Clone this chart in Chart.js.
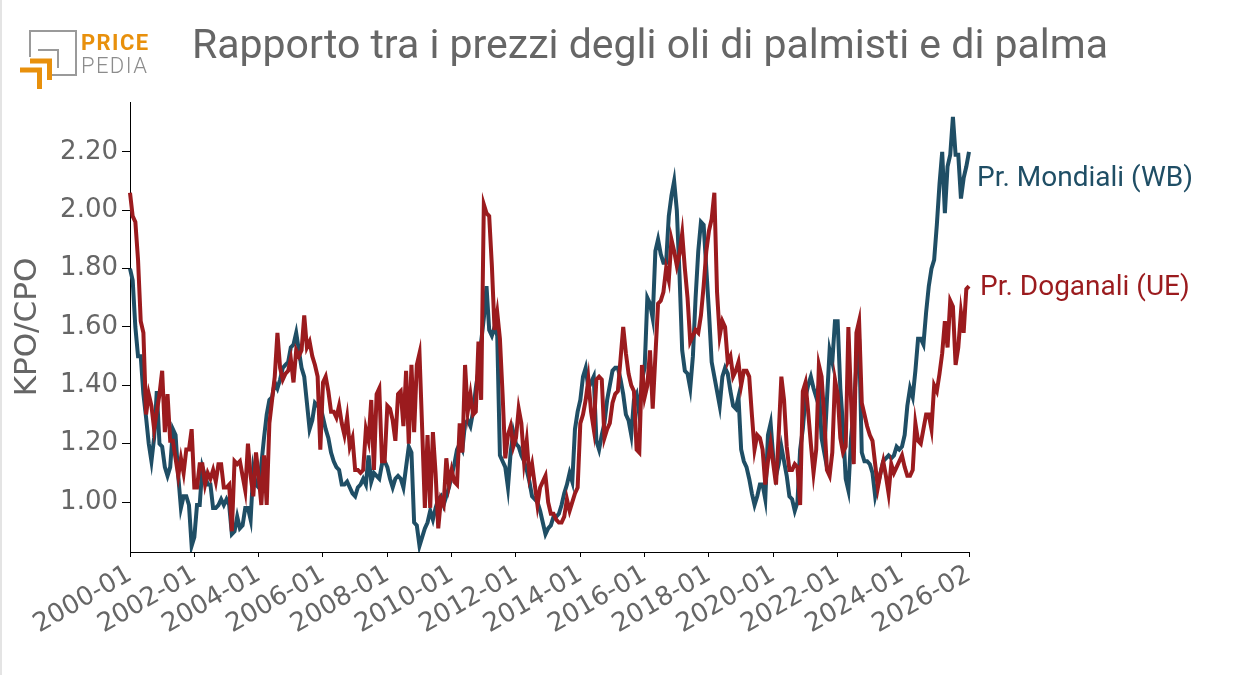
<!DOCTYPE html>
<html>
<head>
<meta charset="utf-8">
<script src="https://cdn.jsdelivr.net/npm/chart.js@4.4.1/dist/chart.umd.min.js"></script>
<style>
  html, body { margin: 0; padding: 0; background: #fff; }
  #wrap { position: relative; width: 1233px; height: 675px; overflow: hidden; background: #fff; }
  #edge { position: absolute; left: 0; top: 0; width: 2px; height: 675px; background: #e4e4e4; }
  #chart { position: absolute; left: 0; top: 0; }
  #overlay { position: absolute; left: 0; top: 0; pointer-events: none; }
</style>
</head>
<body>
<div id="wrap">
  <canvas id="chart" width="1233" height="675"></canvas>
  <svg id="overlay" width="1233" height="675" xmlns="http://www.w3.org/2000/svg">
    <!-- logo -->
    <g fill="none" stroke="#9a9a9a" stroke-width="2">
      <polyline points="30,57 30,31 76,31 76,75 52,75"/>
      <polyline points="38,50 58,50 58,68"/>
    </g>
    <g fill="none" stroke="#e8900c" stroke-width="5" stroke-linejoin="miter">
      <polyline points="30,61 49.5,61 49.5,80"/>
      <polyline points="20,70 39.5,70 39.5,89"/>
    </g>
    <text x="81" y="50" font-family="Roboto" font-weight="bold" font-size="22" letter-spacing="1.4" fill="#e8900c">PRICE</text>
    <text x="81" y="73" font-family="Roboto" font-weight="300" font-size="22" letter-spacing="1.4" fill="#8c8c8c">PEDIA</text>
    <!-- title -->
    <text id="title" x="192" y="58" font-family="Roboto" font-size="41" fill="#666666">Rapporto tra i prezzi degli oli di palmisti e di palma</text>
    <!-- end labels -->
    <text x="977" y="186" font-family="Roboto" font-size="28" fill="#1f4e65">Pr. Mondiali (WB)</text>
    <text x="980" y="295" font-family="Roboto" font-size="28" fill="#9b1b1e">Pr. Doganali (UE)</text>
  </svg>
  <div id="edge"></div>
</div>
<script>
// ---- categories (monthly, 2000-01 .. 2026-02) ----
const startYear = 2000;
const months = [];
for (let y = startYear; y <= 2026; y++) {
  for (let m = 1; m <= 12; m++) {
    if (y === 2026 && m > 2) break;
    months.push(y + '-' + String(m).padStart(2, '0'));
  }
}

// ---- tick labels ----
const xTickLabels = ['2000-01','2002-01','2004-01','2006-01','2008-01','2010-01','2012-01',
                     '2014-01','2016-01','2018-01','2020-01','2022-01','2024-01','2026-02'];
const yTickValues = [1.00, 1.20, 1.40, 1.60, 1.80, 2.00, 2.20];

// ---- series: Pr. Mondiali (WB) ----
const mondiali = [
  1.80,1.76,1.60,1.50,1.50,1.37,1.29,1.20,1.14,1.22,1.38,1.20, // 2000
  1.19,1.12,1.09,1.12,1.25,1.23,1.09,0.98,1.02,1.02,0.99,0.85, // 2001
  0.88,0.99,0.99,1.12,1.09,1.06,1.06,0.98,0.98,0.99,1.01,0.99, // 2002
  1.01,0.99,0.89,0.90,0.95,0.91,0.92,0.98,0.98,0.94,1.11,1.06, // 2003
  1.05,1.13,1.22,1.30,1.35,1.36,1.41,1.39,1.42,1.46,1.47,1.48, // 2004
  1.53,1.54,1.58,1.52,1.46,1.43,1.34,1.25,1.28,1.34,1.33,1.33, // 2005
  1.29,1.25,1.22,1.17,1.14,1.12,1.11,1.06,1.06,1.07,1.05,1.03, // 2006
  1.02,1.05,1.06,1.08,1.06,1.16,1.07,1.10,1.09,1.08,1.13,1.14, // 2007
  1.12,1.08,1.05,1.08,1.09,1.08,1.05,1.12,1.19,1.17,0.93,0.92, // 2008
  0.85,0.88,0.91,0.93,0.97,0.94,0.98,1.01,1.02,0.99,1.02,1.05, // 2009
  1.09,1.13,1.18,1.20,1.18,1.27,1.28,1.26,1.31,1.39,1.45,1.55, // 2010
  1.63,1.74,1.59,1.57,1.60,1.57,1.16,1.14,1.12,1.05,1.17,1.24, // 2011
  1.20,1.19,1.16,1.14,1.11,1.07,1.02,1.01,1.00,0.97,0.93,0.89, // 2012
  0.91,0.92,0.95,0.95,0.96,0.99,1.03,1.06,1.10,1.07,1.25,1.31, // 2013
  1.35,1.43,1.46,1.39,1.41,1.43,1.21,1.18,1.23,1.27,1.35,1.40, // 2014
  1.45,1.46,1.46,1.42,1.37,1.30,1.28,1.23,1.35,1.37,1.30,1.42, // 2015
  1.46,1.70,1.68,1.63,1.86,1.90,1.85,1.82,1.82,1.98,2.05,2.10, // 2016
  2.00,1.78,1.52,1.45,1.44,1.39,1.50,1.70,1.86,1.96,1.95,1.80, // 2017
  1.65,1.48,1.43,1.38,1.33,1.43,1.46,1.44,1.38,1.33,1.32,1.36, // 2018
  1.18,1.14,1.12,1.08,1.03,0.99,1.02,1.06,1.06,1.01,1.23,1.27, // 2019
  1.15,1.09,1.13,1.19,1.14,1.09,1.02,1.01,0.97,1.00,1.18,1.25, // 2020
  1.36,1.40,1.43,1.39,1.36,1.40,1.22,1.17,1.35,1.52,1.48,1.62, // 2021
  1.62,1.39,1.26,1.08,1.04,1.22,1.32,1.47,1.56,1.17,1.14,1.14, // 2022
  1.13,1.10,1.02,1.06,1.10,1.14,1.15,1.16,1.15,1.16,1.19,1.18, // 2023
  1.19,1.23,1.33,1.39,1.36,1.45,1.56,1.56,1.54,1.65,1.74,1.80, // 2024
  1.83,1.95,2.09,2.20,1.99,2.15,2.19,2.32,2.19,2.19,2.04,2.11, // 2025
  2.15,2.20                                                    // 2026
];

// ---- series: Pr. Doganali (UE) ----
const doganali = [
  2.06,1.98,1.96,1.83,1.62,1.58,1.30,1.37,1.33,1.25,1.31,1.37, // 2000
  1.45,1.24,1.37,1.21,1.21,1.15,1.09,1.15,1.10,1.18,1.18,1.25, // 2001
  1.05,1.05,1.13,1.13,1.06,1.10,1.08,1.11,1.07,1.13,1.13,1.05, // 2002
  1.05,1.06,0.90,1.14,1.13,1.14,1.09,1.04,1.20,1.09,1.02,1.17, // 2003
  1.09,0.99,1.16,0.99,1.27,1.35,1.43,1.58,1.46,1.42,1.44,1.45, // 2004
  1.49,1.41,1.52,1.50,1.52,1.64,1.53,1.55,1.50,1.47,1.43,1.18, // 2005
  1.41,1.43,1.38,1.31,1.31,1.29,1.33,1.27,1.23,1.29,1.19,1.22, // 2006
  1.11,1.11,1.10,1.11,1.25,1.21,1.35,1.11,1.37,1.39,1.14,1.14, // 2007
  1.33,1.32,1.28,1.21,1.37,1.38,1.26,1.45,1.20,1.47,1.24,1.47, // 2008
  1.51,1.25,0.98,1.23,0.98,1.24,1.10,0.91,1.01,0.99,1.15,1.06, // 2009
  1.11,1.07,1.06,1.27,1.17,1.47,1.31,1.37,1.30,1.31,1.55,1.35, // 2010
  2.02,1.99,1.98,1.81,1.59,1.65,1.56,1.37,1.15,1.23,1.26,1.19, // 2011
  1.22,1.32,1.27,1.14,1.21,1.09,1.13,1.06,0.99,1.05,1.07,1.09, // 2012
  1.00,0.96,0.96,0.94,0.93,0.93,0.95,1.01,0.97,1.00,1.03,1.05, // 2013
  1.27,1.30,1.35,1.42,1.31,1.25,1.42,1.43,1.42,1.22,1.25,1.27, // 2014
  1.34,1.37,1.38,1.49,1.60,1.51,1.44,1.40,1.38,1.18,1.17,1.47, // 2015
  1.36,1.40,1.52,1.32,1.50,1.68,1.69,1.72,1.80,1.76,1.90,1.86, // 2016
  1.81,1.85,1.92,1.80,1.70,1.55,1.57,1.59,1.58,1.64,1.74,1.86, // 2017
  1.93,1.97,2.06,1.72,1.57,1.62,1.60,1.48,1.50,1.43,1.45,1.48, // 2018
  1.40,1.45,1.45,1.43,1.30,1.18,1.23,1.22,1.18,1.06,1.14,1.20, // 2019
  1.13,1.06,1.23,1.43,1.35,1.19,1.11,1.11,1.13,1.12,0.99,1.38, // 2020
  1.41,1.31,1.20,1.10,1.18,1.47,1.43,1.29,1.11,1.09,1.17,1.42, // 2021
  1.37,1.22,1.17,1.19,1.60,1.35,1.13,1.58,1.62,1.34,1.30,1.26, // 2022
  1.23,1.21,1.13,1.05,1.10,1.14,1.09,1.03,1.13,1.10,1.12,1.14, // 2023
  1.16,1.12,1.09,1.09,1.11,1.27,1.21,1.20,1.25,1.30,1.30,1.25, // 2024
  1.40,1.38,1.44,1.51,1.62,1.53,1.69,1.67,1.47,1.53,1.65,1.58, // 2025
  1.73,1.74                                                    // 2026
];

const BLUE = '#1f4e65';
const RED = '#9b1b1e';
const TEXT = '#666666';

new Chart(document.getElementById('chart'), {
  type: 'line',
  data: {
    labels: months,
    datasets: [
      { label: 'Pr. Doganali (UE)', data: doganali, borderColor: RED, backgroundColor: RED,
        borderWidth: 4, pointRadius: 0, tension: 0, order: 0, fill: false },
      { label: 'Pr. Mondiali (WB)', data: mondiali, borderColor: BLUE, backgroundColor: BLUE,
        borderWidth: 4, pointRadius: 0, tension: 0, order: 1, fill: false }
    ]
  },
  options: {
    responsive: false,
    animation: false,
    devicePixelRatio: 1,
    layout: { padding: { left: 0, right: 264, top: 102, bottom: 0 } },
    plugins: { legend: { display: false }, tooltip: { enabled: false }, title: { display: false } },
    scales: {
      x: {
        type: 'category',
        offset: false,
        grid: { display: true, drawOnChartArea: false, drawTicks: true, tickLength: 5, color: '#000' },
        border: { display: true, color: '#000', width: 1 },
        ticks: { autoSkip: false, minRotation: 30, maxRotation: 30, color: TEXT, padding: 2,
                 font: { family: 'DejaVu Sans', size: 26 } },
        afterBuildTicks: (s) => { s.ticks = s.ticks.filter(t => xTickLabels.includes(months[t.value])); },
        afterFit: (s) => { s.height = 123; }
      },
      y: {
        min: 0.829, max: 2.371,
        grid: { display: true, drawOnChartArea: false, drawTicks: true, tickLength: 8, color: '#000' },
        border: { display: true, color: '#000', width: 1 },
        ticks: { color: TEXT, padding: 4, font: { family: 'DejaVu Sans', size: 26 },
                 callback: (v) => Number(v).toFixed(2) },
        afterBuildTicks: (s) => { s.ticks = yTickValues.map(v => ({ value: v })); },
        afterFit: (s) => { s.width = 130; },
        title: { display: true, text: 'KPO/CPO', color: TEXT,
                 font: { family: 'DejaVu Sans', size: 31 }, padding: { top: 9, bottom: 0 } }
      }
    }
  }
});
</script>
</body>
</html>
